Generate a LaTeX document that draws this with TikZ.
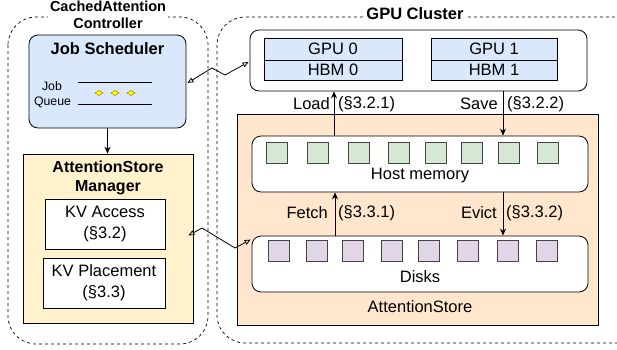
\documentclass[tikz,border=0pt]{standalone}
\usepackage{fontspec}
\setmainfont{Liberation Sans}
\usetikzlibrary{arrows.meta,calc}
\definecolor{jsblue}{HTML}{DAE8FC}
\definecolor{mgryellow}{HTML}{FFF2CC}
\definecolor{aspeach}{HTML}{FFE6CC}
\definecolor{sqgreen}{HTML}{D5E8D4}
\definecolor{sqpurple}{HTML}{E1D5E7}
\definecolor{sqborder}{HTML}{444444}
\definecolor{dmfill}{HTML}{FFFF00}
\definecolor{dmborder}{HTML}{B09500}
\begin{document}
\begin{tikzpicture}[x=1pt,y=-1pt,
  font=\fontsize{16.5}{19}\selectfont,
  container/.style={draw, dash pattern=on 3pt off 3pt, line width=0.7pt, rounded corners=28pt},
  boxbase/.style={draw, line width=0.8pt, inner sep=0pt, align=center},
  rbox/.style={boxbase, rounded corners=9pt},
  cell/.style={boxbase, fill=jsblue, minimum height=20pt},
  sqg/.style={draw=sqborder, line width=0.7pt, fill=sqgreen, minimum width=21pt, minimum height=21pt, inner sep=0pt},
  sqp/.style={draw=sqborder, line width=0.7pt, fill=sqpurple, minimum width=21pt, minimum height=21pt, inner sep=0pt},
  dm/.style={draw=dmborder, fill=dmfill, line width=0.6pt, diamond-ish},
  diamond-ish/.style={},
  arr/.style={line width=0.8pt, -{Stealth[length=7pt,width=6pt]}},
  zig/.style={line width=0.8pt, {Triangle[open,length=6pt,width=5pt]}-{Triangle[open,length=6pt,width=5pt]}},
  ttl/.style={font=\fontsize{16}{19}\selectfont\bfseries, align=center, inner sep=1pt}
]
\clip (0,0) rectangle (617,349);
\useasboundingbox (0,0) rectangle (617,349);

% containers
\draw[container] (8,17) rectangle (208,344);
\draw[container] (217,17) rectangle (650,343);
\node[fill=white, font=\fontsize{14.5}{17}\selectfont\bfseries, align=center, inner sep=2pt] (ctl) at (108,15) {CachedAttention\\Controller};
\node[fill=white, font=\fontsize{16.5}{19}\selectfont\bfseries, inner sep=3pt] (gc) at (415,14) {GPU Cluster};

% Job scheduler
\node[rbox, fill=jsblue, minimum width=157pt, minimum height=93pt] (js) at (107.5,81.5) {};
\node[ttl, font=\fontsize{16.5}{19}\selectfont\bfseries] (jst) at (107.5,49) {Job Scheduler};
\node[font=\fontsize{12.3}{15}\selectfont, inner sep=0pt] (jq1) at (52,86) {Job};
\node[font=\fontsize{12.3}{15}\selectfont, inner sep=0pt] (jq2) at (52.5,102) {Queue};
\coordinate (l1a) at (78,82); \coordinate (l1b) at (152,82);
\coordinate (l2a) at (78,104); \coordinate (l2b) at (152,104);
\draw[line width=0.8pt] (l1a) -- (l1b);
\draw[line width=0.8pt] (l2a) -- (l2b);
\foreach \x in {99,115,131}{
  \draw[draw=dmborder, fill=dmfill, line width=0.6pt] (\x-4,93) -- (\x,90.5) -- (\x+4,93) -- (\x,95.5) -- cycle;
}

% Manager
\node[boxbase, fill=mgryellow, minimum width=170pt, minimum height=169pt] (mgr) at (108,238.5) {};
\node[ttl] (mgrt) at (108,177.5) {AttentionStore\\Manager};
\node[boxbase, fill=white, minimum width=120pt, minimum height=50pt, font=\fontsize{16.5}{21}\selectfont] (kva) at (105,224) {KV Access\\(§3.2)};
\node[boxbase, fill=white, minimum width=122pt, minimum height=50pt, font=\fontsize{16.5}{21}\selectfont] (kvp) at (104,283) {KV Placement\\(§3.3)};
\draw[arr] (js.south) -- (js.south |- mgr.north);

% GPU box
\node[rbox, fill=white, minimum width=337pt, minimum height=61pt] (gpu) at (418.5,60.5) {};
\node[cell, minimum width=138pt, minimum height=22pt] (g0) at (333,49) {GPU 0};
\node[cell, minimum width=138pt] (h0) at (333,70) {HBM 0};
\node[cell, minimum width=126pt, minimum height=22pt] (g1) at (494,49) {GPU 1};
\node[cell, minimum width=126pt] (h1) at (494,70) {HBM 1};

% AttentionStore
\node[boxbase, fill=aspeach, minimum width=361pt, minimum height=211pt] (as) at (417.5,219.5) {};
\node[inner sep=0pt] (ast) at (420,307) {AttentionStore};
\node[rbox, fill=white, minimum width=336pt, minimum height=56pt] (host) at (420,164) {};
\node[inner sep=0pt] (hostt) at (420,176) {Host memory};
\node[rbox, fill=white, minimum width=336pt, minimum height=56pt] (disks) at (420,264) {};
\node[inner sep=0pt] (diskst) at (420,277) {Disks};
\foreach \x [count=\i] in {277,318,359,399,436,472,509,548}{
  \node[sqg] (hs\i) at (\x,152.5) {};
}
\foreach \x [count=\i] in {279,317,353,392,429,468,508,547}{
  \node[sqp] (ds\i) at (\x,251) {};
}

% vertical arrows
\draw[arr] (host.north -| 334,0) -- (gpu.south -| 334,0);
\draw[arr] (gpu.south -| 503,0) -- (host.north -| 503,0);
\draw[arr] (disks.north -| 335,0) -- (host.south -| 335,0);
\draw[arr] (host.south -| 503,0) -- (disks.north -| 503,0);
\node[anchor=east, inner sep=0pt] (ld) at (330,104) {Load};
\node[anchor=west, inner sep=0pt] (ldn) at (338,104) {(§3.2.1)};
\node[anchor=east, inner sep=0pt] (sv) at (498,104) {Save};
\node[anchor=west, inner sep=0pt] (svn) at (507,104) {(§3.2.2)};
\node[anchor=east, inner sep=0pt] (ft) at (328,213) {Fetch};
\node[anchor=west, inner sep=0pt] (ftn) at (338,213) {(§3.3.1)};
\node[anchor=east, inner sep=0pt] (ev) at (497,213) {Evict};
\node[anchor=west, inner sep=0pt] (evn) at (506,213) {(§3.3.2)};

% zigzag connectors
\draw[zig] ($(js.east)+(1,1.5)$) -- (212,68) -- (225,75) -- ($(gpu.west)+(-1,1.5)$);
\draw[zig] ($(mgr.east)+(-5,-3)$) -- (202,228) -- (235,248) -- ($(disks.north west)+(-1,4)$);
\end{tikzpicture}
\end{document}
